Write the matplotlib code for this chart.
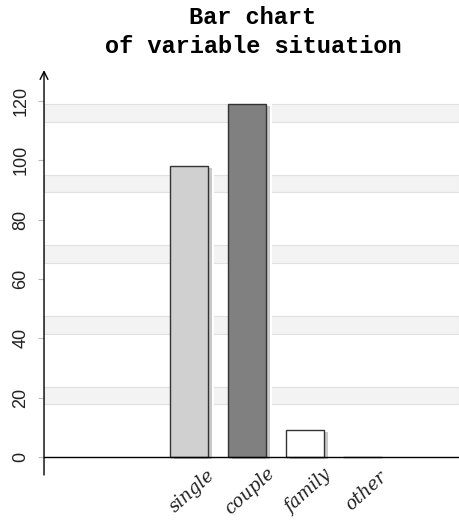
import matplotlib
matplotlib.use("Agg")
import matplotlib.pyplot as plt
import matplotlib.transforms as mtransforms

categories = ["single", "couple", "family", "other"]
counts = [98, 119, 9, 0]
colors = ["#d0d0d0", "#808080", "#ffffff", "#ffffff"]
yticks = [0, 20, 40, 60, 80, 100, 120]

fig = plt.figure(figsize=(4.59, 5.23), dpi=100)
ax = fig.add_axes([0.0959, 0.0918, 0.9041, 0.7742])
ax.set_xlim(-2.5, 4.66)
ax.set_ylim(-6, 130.4)

# light bands behind the bars
top = max(counts)
for k in range(1, 6):
    hi = top * k / 5
    lo = hi - top / 20
    ax.axhspan(lo, hi, facecolor="#f3f3f3", edgecolor="#e0e0e0", lw=0.8, zorder=0)

x = list(range(len(categories)))
w = 0.667
# white gap + shadow on the right of each bar
for xi, c in zip(x, counts):
    ax.bar(xi - w / 2, c, width=w + 0.1, align="edge", color="white", lw=0, zorder=1)
    sh = mtransforms.offset_copy(ax.transData, fig=fig, x=4, y=-2, units="dots")
    ax.bar(xi, c, width=w, color="#c8c8c8", lw=0, zorder=2, transform=sh)
ax.bar(x, counts, width=w, color=colors, edgecolor="#333333", lw=1.0, zorder=3)

# axes lines
ax.axhline(0, color="black", lw=1.0, zorder=4)
for s in ax.spines.values():
    s.set_visible(False)
ax.annotate("", xy=(-2.5, 130.4), xytext=(-2.5, -6),
            xycoords="data", arrowprops=dict(arrowstyle="->", lw=1.0, color="black",
                                             shrinkA=0, shrinkB=0, mutation_scale=14),
            annotation_clip=False, zorder=5)

ax.set_yticks(yticks)
ax.set_yticklabels([str(t) for t in yticks], rotation=90, va="center",
                   fontsize=13, family="Liberation Sans", color="#222222")
ax.tick_params(axis="y", length=4, color="#bbbbbb", pad=6.5)
ax.set_xticks([])

for xi, name in zip(x, categories):
    ax.annotate(name, xy=(xi, 0), xytext=(3, -34), textcoords="offset pixels",
                rotation=42, ha="center", va="center", fontsize=13,
                family="DejaVu Serif", style="italic", color="#222222",
                annotation_clip=False)

fig.text(0.551, 0.988, "Bar chart\nof variable situation", ha="center", va="top",
         family="Liberation Mono", fontweight="bold", fontsize=17, linespacing=1.3)

fig.savefig("out.png", dpi=100)
